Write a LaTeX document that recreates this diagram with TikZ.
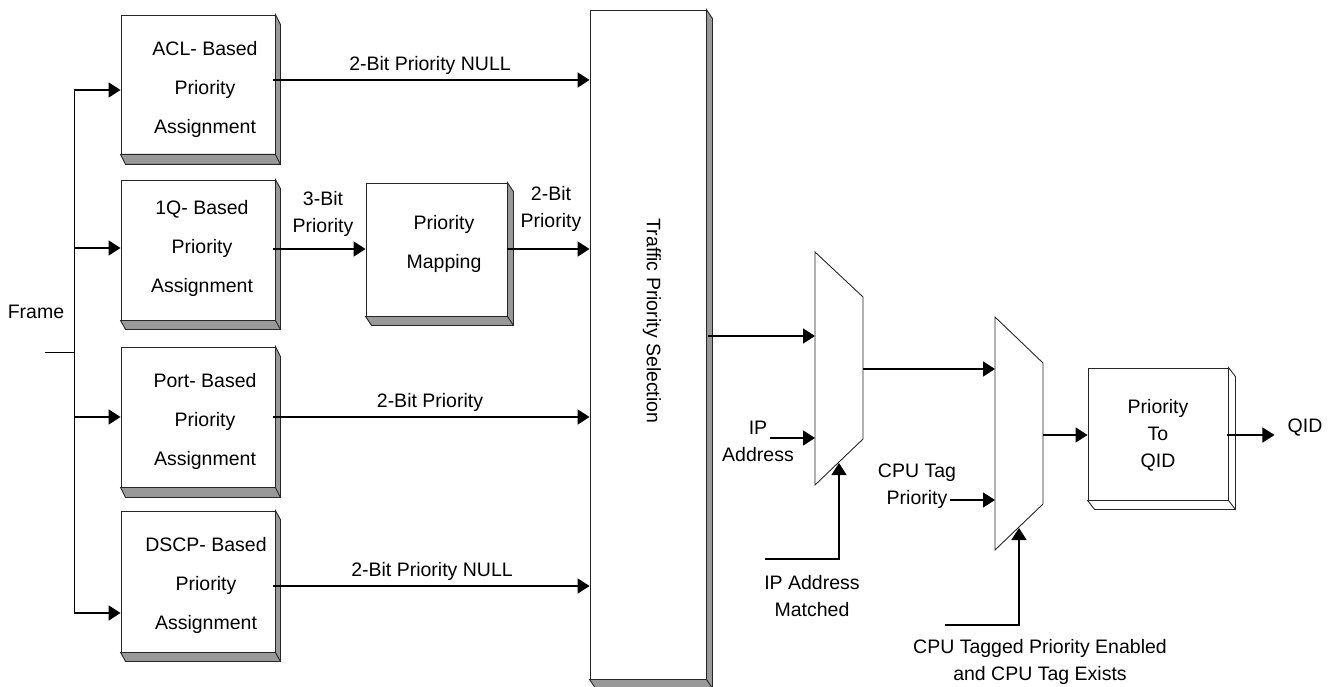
\documentclass[tikz,border=0pt]{standalone}
\usepackage{fontspec}
\setmainfont{Liberation Sans}
\usetikzlibrary{arrows.meta,calc}
\tikzset{
  box/.style={draw=black!85, line width=0.9pt, fill=white, inner sep=0pt},
  bev/.style={draw=black!85, line width=0.9pt},
  arr/.style={line width=1.6pt, -{Triangle[length=12pt,width=15pt]}},
  ln/.style={line width=1pt},
  muxs/.style={draw=black!85, line width=0.9pt, fill=white},
  lbl/.style={font=\fontsize{19.5}{27}\selectfont, align=center, inner sep=0pt},
  btxt/.style={font=\fontsize{19.5}{39}\selectfont, align=center, inner sep=0pt},
}
% bevel: node name, dx, dy, fill colour
\newcommand{\bevelof}[4]{%
  \filldraw[bev, fill=#4] (#1.north east) -- ++(#2,#3) -- ([shift={(#2,#3)}]#1.south east)
     -- ([shift={(#2,#3)}]#1.south west) -- (#1.south west) -- (#1.south east) -- cycle;
  \draw[bev] (#1.south east) -- ++(#2,#3);
}
\begin{document}
\begin{tikzpicture}[x=1pt,y=-1pt]
\useasboundingbox (0,0) rectangle (1334,687);

% ---- assignment boxes
\node[box, minimum width=154pt, minimum height=139pt] (acl) at (198,84.5) {};
\node[box, minimum width=154pt, minimum height=140pt] (oneq) at (198,250) {};
\node[box, minimum width=154pt, minimum height=140pt] (port) at (198,417) {};
\node[box, minimum width=154pt, minimum height=141pt] (dscp) at (198,581.5) {};
\bevelof{acl}{5}{10}{black!40}
\bevelof{oneq}{5}{9}{black!40}
\bevelof{port}{5}{10}{black!40}
\bevelof{dscp}{5}{9}{black!40}
\node[btxt] (acl-t) at (205,89) {ACL- Based\\Priority\\Assignment};
\node[btxt] (oneq-t) at (202,248) {1Q- Based\\Priority\\Assignment};
\node[btxt] (port-t) at (205,421) {Port- Based\\Priority\\Assignment};
\node[btxt] (dscp-t) at (206,585) {DSCP- Based\\Priority\\Assignment};

% ---- priority mapping
\node[box, minimum width=141pt, minimum height=133pt] (map) at (436.5,249.5) {};
\bevelof{map}{6}{9}{black!40}
\node[btxt] (map-t) at (444,244) {Priority\\Mapping};

% ---- traffic priority selection
\node[box, minimum width=116pt, minimum height=669pt] (sel) at (648,344.5) {};
\bevelof{sel}{6}{9}{black!40}
\node[lbl, rotate=-90] (sel-t) at (652,321) {Traffic Priority Selection};

% ---- muxes
\draw[muxs] (815,252) -- (863,297) -- (863,439) -- (815,485) -- cycle;
\draw[muxs] (995,317) -- (1043,363) -- (1043,504) -- (995,550) -- cycle;
\coordinate (m1a) at (815,336);
\coordinate (m1b) at (815,438);
\coordinate (m1c) at (839,463);
\coordinate (m1o) at (863,369);
\coordinate (m2a) at (995,369);
\coordinate (m2b) at (995,500);
\coordinate (m2c) at (1019,528);
\coordinate (m2o) at (1043,435);

% ---- priority to QID
\node[box, minimum width=140pt, minimum height=132pt] (qid) at (1158,434) {};
\bevelof{qid}{7}{9}{white}
\node[lbl] (qid-t) at (1158,435) {Priority\\To\\QID};
\node[lbl] (qid-out) at (1305,428) {QID};

% ---- frame tree
\node[lbl] (frame) at (36,312) {Frame};
\coordinate (f0) at (45,352);
\coordinate (tr) at (74,352);
\coordinate (t1) at (74,90);
\coordinate (t2) at (74,248);
\coordinate (t3) at (74,417);
\coordinate (t4) at (74,613);
\draw[ln] (f0) -- (tr);
\draw[ln] (t1) -- (t4);
\draw[arr] (t1) -- (t1 -| acl.west);
\draw[arr] (t2) -- (t2 -| oneq.west);
\draw[arr] (t3) -- (t3 -| port.west);
\draw[arr] (t4) -- (t4 -| dscp.west);

% ---- outputs to selection
\coordinate (y1) at (0,80);
\coordinate (y2) at (0,249);
\coordinate (y3) at (0,417);
\coordinate (y4) at (0,586);
\draw[arr] ([xshift=-2pt]acl.east |- y1) -- (sel.west |- y1);
\draw[arr] ([xshift=-2pt]oneq.east |- y2) -- (map.west |- y2);
\draw[arr] (map.east |- y2) -- (sel.west |- y2);
\draw[arr] ([xshift=-2pt]port.east |- y3) -- (sel.west |- y3);
\draw[arr] ([xshift=-2pt]dscp.east |- y4) -- (sel.west |- y4);
\node[lbl] (l1) at (430,65) {2-Bit Priority NULL};
\node[lbl] (l2) at (323,213.5) {3-Bit\\Priority};
\node[lbl] (l3) at (551,208.5) {2-Bit\\Priority};
\node[lbl] (l4) at (430,402) {2-Bit Priority};
\node[lbl] (l5) at (432,571) {2-Bit Priority NULL};

% ---- selection to muxes
\draw[arr] ([xshift=2pt]sel.east |- m1a) -- (m1a);
\node[lbl] (ip) at (758,441.5) {IP\\Address};
\coordinate (ips) at (770,438);
\draw[arr] (ips) -- (m1b);
\node[lbl] (ipm) at (812,596.5) {IP Address\\Matched};
\coordinate (ipms) at (765,559);
\draw[arr] (ipms) -| (m1c);
\draw[arr] (m1o) -- (m2a);
\node[lbl] (cpu) at (917,486) {CPU Tag\\Priority};
\coordinate (cpus) at (950,500);
\draw[arr] (cpus) -- (m2b);
\node[lbl] (cpue) at (1040,662) {CPU Tagged Priority Enabled\\and CPU Tag Exists};
\coordinate (cpues) at (945,625);
\draw[arr] (cpues) -| (m2c);
\draw[arr] (m2o) -- (qid.west |- m2o);
\draw[arr] ([xshift=-1pt]qid.east |- m2o) -- ([xshift=-13pt]qid-out.west |- m2o);
\end{tikzpicture}
\end{document}
